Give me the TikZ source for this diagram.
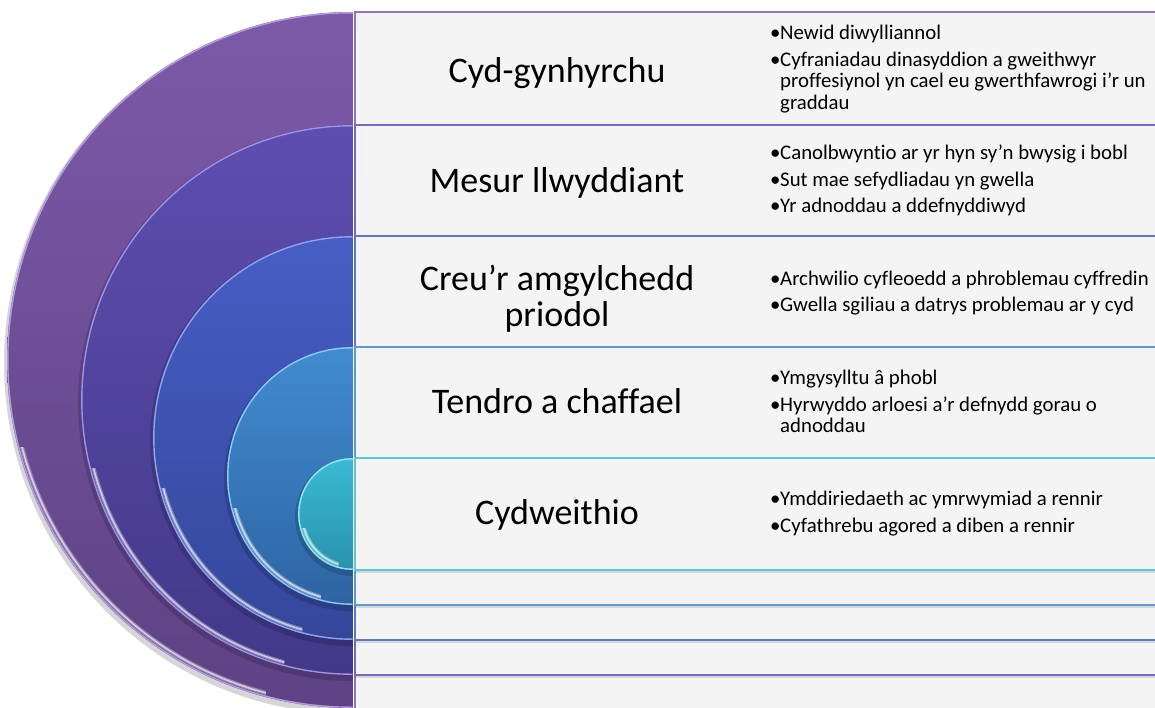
\documentclass[tikz,border=0pt]{standalone}
\usepackage{fontspec}
\setmainfont[Ligatures=NoCommon]{Carlito}
\definecolor{sAt}{HTML}{7D5AA8}\definecolor{sAb}{HTML}{5D4284}\definecolor{sAe}{HTML}{B49BE0}
\definecolor{sBt}{HTML}{5E4EB0}\definecolor{sBb}{HTML}{433888}\definecolor{sBe}{HTML}{9E92E6}
\definecolor{sCt}{HTML}{475EC4}\definecolor{sCb}{HTML}{34479A}\definecolor{sCe}{HTML}{8FA2EE}
\definecolor{sDt}{HTML}{418CD0}\definecolor{sDb}{HTML}{2E64A3}\definecolor{sDe}{HTML}{8CC6F4}
\definecolor{sEt}{HTML}{3BBAD5}\definecolor{sEb}{HTML}{2892AC}\definecolor{sEe}{HTML}{8EE6F4}
\definecolor{rA}{HTML}{8B74C6}\definecolor{rB}{HTML}{7469C4}\definecolor{rC}{HTML}{5B78CC}
\definecolor{rD}{HTML}{5B9AD6}\definecolor{rE}{HTML}{5CC6DA}
\definecolor{rowfill}{HTML}{F4F4F4}
\newcommand\myhalf[6]{%
  \begin{scope}
    \clip (0,0) rectangle (352.5,707);
    \fill[black,opacity=0.16] (352,#1+3) ellipse[x radius=#2+3,y radius=#3+3];
    \shade[top color=#4,bottom color=#5] (352,#1) ellipse[x radius=#2,y radius=#3];
    \draw[#6,line width=1.4] (352,#1) ellipse[x radius=#2-0.8,y radius=#3-0.8];
    \begin{scope}
      \clip (0,#1+0.25*#3) rectangle (352-0.25*#2,707);
      \draw[white,opacity=0.35,line width=4] (352,#1) ellipse[x radius=#2-4,y radius=#3-4];
      \draw[white,opacity=0.6,line width=1.5] (352,#1) ellipse[x radius=#2-4,y radius=#3-4];
    \end{scope}
  \end{scope}}
\newcommand\myrow[3]{%
  \fill[black,opacity=0.12] (355,#1+3) rectangle (1175,#2+3);
  \filldraw[fill=rowfill,draw=#3,line width=1.6] (355,#1) rectangle (1175,#2);}
\newcommand\bitem[1]{\par\noindent\hangindent=10pt\hangafter=1\makebox[10pt][l]{•}#1}
\tikzset{
  lbl/.style={anchor=base,inner sep=0pt,font=\fontsize{36}{38}\selectfont,text=black},
  blt/.style={anchor=base west,inner sep=0pt,text=black},
}
\newcommand\blist[1]{\parbox[t]{600pt}{\fontsize{20.8}{21.6}\selectfont\setlength\parskip{5.1pt}\raggedright #1}}
\begin{document}
\begin{tikzpicture}[x=1pt,y=-1pt]
\useasboundingbox (0,0) rectangle (1155,707);
\clip (0,0) rectangle (1155,707);
\fill[white] (0,0) rectangle (1155,707);
% rows
\myrow{12}{709}{rA}
\myrow{125}{675}{rB}
\myrow{236}{640}{rC}
\myrow{347}{605}{rD}
\myrow{458}{570}{rE}
% half discs
\myhalf{360}{345}{348}{sAt}{sAb}{sAe}
\myhalf{400}{271}{275}{sBt}{sBb}{sBe}
\myhalf{438}{199}{202}{sCt}{sCb}{sCe}
\myhalf{476}{125}{129}{sDt}{sDb}{sDe}
\myhalf{514}{54}{56}{sEt}{sEb}{sEe}
% labels
\node[lbl] (l1) at (557,82) {Cyd-gynhyrchu};
\node[lbl] (l2) at (557,192) {Mesur llwyddiant};
\node[lbl] (l3) at (557,290) {\parbox[t]{320pt}{\fontsize{36}{36}\selectfont\centering Creu’r amgylchedd\\ priodol}};
\node[lbl] (l4) at (557,413) {Tendro a chaffael};
\node[lbl] (l5) at (557,524) {Cydweithio};
% bullets
\node[blt] (b1) at (770,39.3) {\blist{\bitem{Newid diwylliannol}\bitem{Cyfraniadau dinasyddion a gweithwyr\newline proffesiynol yn cael eu gwerthfawrogi i’r un\newline graddau}}};
\node[blt] (b2) at (770,159.3) {\blist{\bitem{Canolbwyntio ar yr hyn sy’n bwysig i bobl}\bitem{Sut mae sefydliadau yn gwella}\bitem{Yr adnoddau a ddefnyddiwyd}}};
\node[blt] (b3) at (770,285) {\blist{\bitem{Archwilio cyfleoedd a phroblemau cyffredin}\bitem{Gwella sgiliau a datrys problemau ar y cyd}}};
\node[blt] (b4) at (770,384.5) {\blist{\bitem{Ymgysylltu â phobl}\bitem{Hyrwyddo arloesi a’r defnydd gorau o\newline adnoddau}}};
\node[blt] (b5) at (770,505.7) {\blist{\bitem{Ymddiriedaeth ac ymrwymiad a rennir}\bitem{Cyfathrebu agored a diben a rennir}}};
\end{tikzpicture}
\end{document}
